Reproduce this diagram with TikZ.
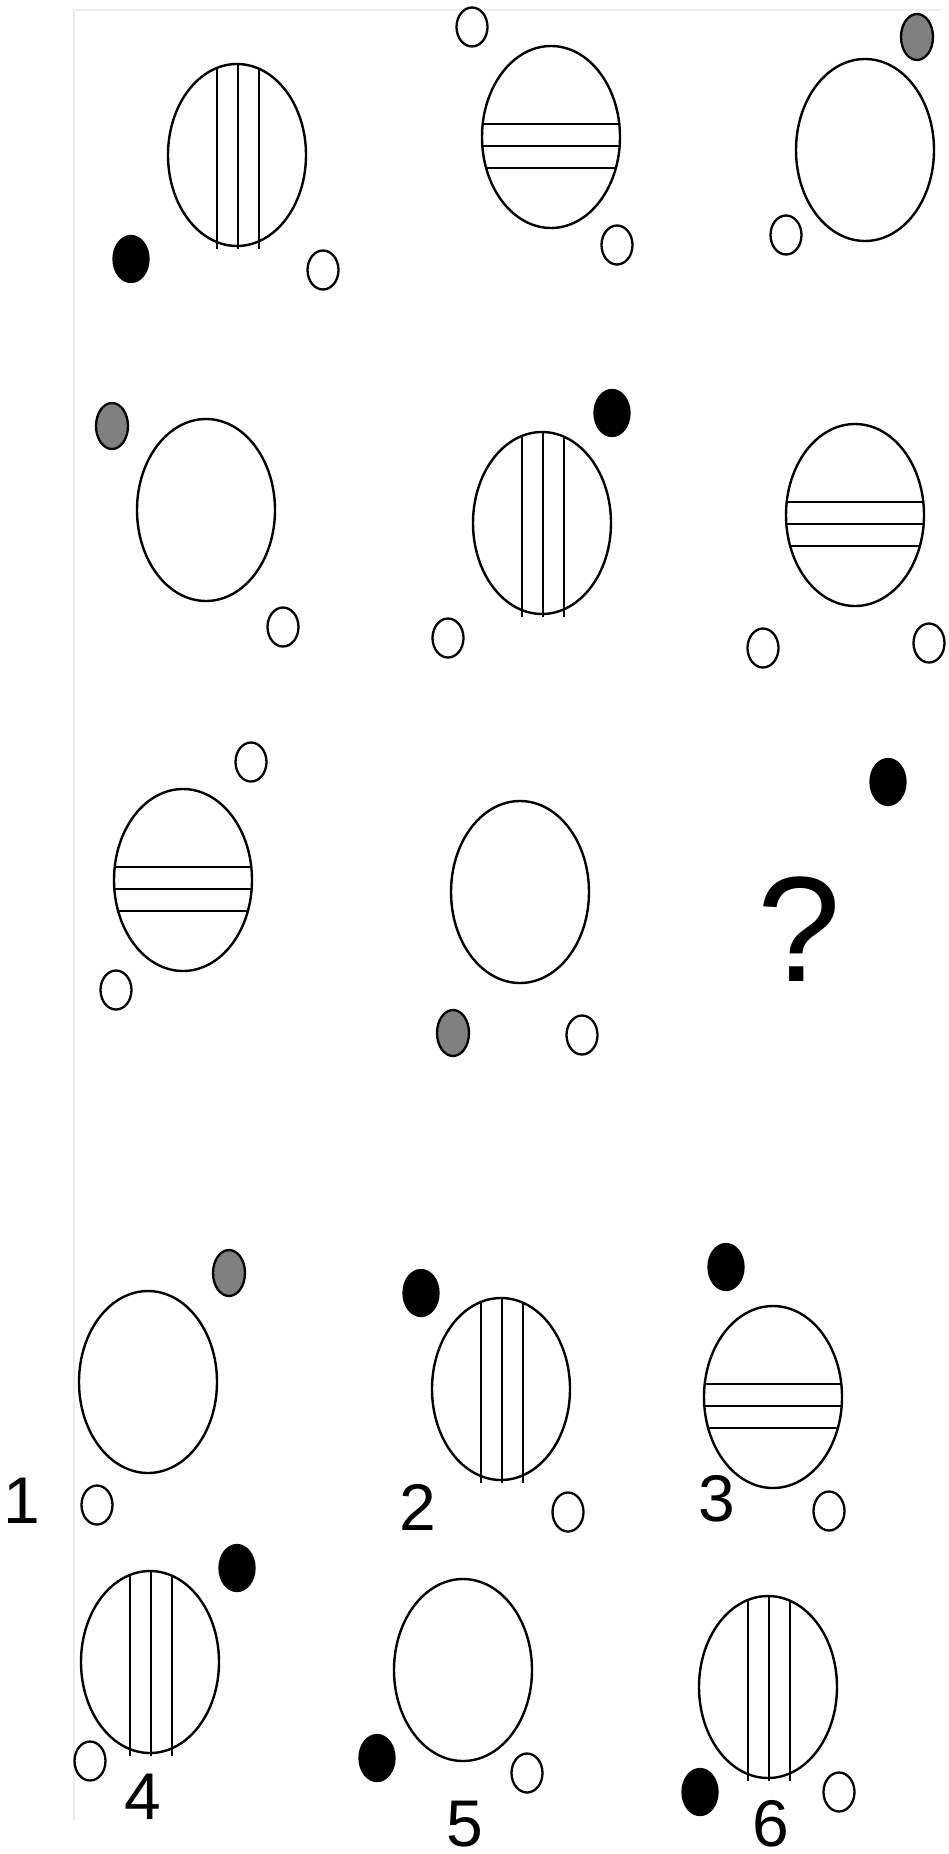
\documentclass[tikz,border=0pt]{standalone}
\usepackage{fontspec}
\setmainfont{Liberation Sans}
\usetikzlibrary{shapes.geometric}

\begin{document}
\begin{tikzpicture}[
    x=1pt, y=-1pt,
    big/.style={ellipse, draw, line width=2.4pt, minimum width=138pt, minimum height=182pt, inner sep=0pt},
    whitedot/.style={ellipse, draw, line width=2.3pt, fill=white, minimum width=31pt, minimum height=39pt, inner sep=0pt},
    blackdot/.style={ellipse, draw, line width=2.3pt, fill=black, minimum width=35pt, minimum height=46pt, inner sep=0pt},
    graydot/.style={ellipse, draw, line width=2.3pt, fill=gray, minimum width=32pt, minimum height=46pt, inner sep=0pt},
    vline/.style={line width=2.1pt},
    hline/.style={line width=2.7pt},
    number/.style={inner sep=0pt, font=\fontsize{66}{66}\selectfont}
]
    \path[fill=white] (0,0) rectangle (948,1854);
    \draw[black!8, line width=2pt] (74,1820) -- (74,10) -- (940,10);

    % Row 1
    \node[big] (e11) at (237,155) {};
    \foreach \dx/\dy in {-20/87, 1/91, 22/86}
        \draw[vline] ([shift={(\dx,-\dy)}]e11.center) -- ++(0,\dy+94);
    \node[blackdot] (d11a) at (131,259) {};
    \node[whitedot] (d11b) at (323,270) {};

    \node[big] (e12) at (551,137) {};
    \foreach \dy/\w in {-13/68, 9/68.5, 31/65}
        \draw[hline] ([shift={(-\w,\dy)}]e12.center) -- ++(2*\w,0);
    \node[whitedot] (d12a) at (472,27) {};
    \node[whitedot] (d12b) at (617,245) {};

    \node[big] (e13) at (865,150) {};
    \node[graydot] (d13a) at (917,37) {};
    \node[whitedot] (d13b) at (786,235) {};

    % Row 2
    \node[big] (e21) at (206,510) {};
    \node[graydot] (d21a) at (112,426) {};
    \node[whitedot] (d21b) at (283,627) {};

    \node[big] (e22) at (542,523) {};
    \foreach \dx/\dy in {-20/87, 1/91, 22/86}
        \draw[vline] ([shift={(\dx,-\dy)}]e22.center) -- ++(0,\dy+94);
    \node[blackdot] (d22a) at (612,413) {};
    \node[whitedot] (d22b) at (448,638) {};

    \node[big] (e23) at (855,515) {};
    \foreach \dy/\w in {-13/68, 9/68.5, 31/65}
        \draw[hline] ([shift={(-\w,\dy)}]e23.center) -- ++(2*\w,0);
    \node[whitedot] (d23a) at (763,648) {};
    \node[whitedot] (d23b) at (929,643) {};

    % Row 3
    \node[big] (e31) at (183,880) {};
    \foreach \dy/\w in {-13/68, 9/68.5, 31/65}
        \draw[hline] ([shift={(-\w,\dy)}]e31.center) -- ++(2*\w,0);
    \node[whitedot] (d31a) at (251,762) {};
    \node[whitedot] (d31b) at (116,990) {};

    \node[big] (e32) at (520,892) {};
    \node[graydot] (d32a) at (453,1033) {};
    \node[whitedot] (d32b) at (582,1035) {};

    \node[blackdot] (d33a) at (888,782) {};
    \node[inner sep=0pt, font=\fontsize{150}{150}\selectfont] (q) at (799,929) {?};

    % Answers
    \node[big] (a1) at (148,1382) {};
    \node[graydot] (a1a) at (229,1273) {};
    \node[whitedot] (a1b) at (97,1505) {};
    \node[number] (n1) at (22,1501) {1};

    \node[big] (a2) at (501,1389) {};
    \foreach \dx/\dy in {-20/87, 1/91, 22/86}
        \draw[vline] ([shift={(\dx,-\dy)}]a2.center) -- ++(0,\dy+94);
    \node[blackdot] (a2a) at (421,1293) {};
    \node[whitedot] (a2b) at (568,1512) {};
    \node[number] (n2) at (418,1507) {2};

    \node[big] (a3) at (773,1397) {};
    \foreach \dy/\w in {-13/68, 9/68.5, 31/65}
        \draw[hline] ([shift={(-\w,\dy)}]a3.center) -- ++(2*\w,0);
    \node[blackdot] (a3a) at (726,1267) {};
    \node[whitedot] (a3b) at (829,1511) {};
    \node[number] (n3) at (717,1499) {3};

    \node[big] (a4) at (150,1662) {};
    \foreach \dx/\dy in {-20/87, 1/91, 22/86}
        \draw[vline] ([shift={(\dx,-\dy)}]a4.center) -- ++(0,\dy+94);
    \node[blackdot] (a4a) at (237,1568) {};
    \node[whitedot] (a4b) at (90,1761) {};
    \node[number] (n4) at (143,1797) {4};

    \node[big] (a5) at (463,1670) {};
    \node[blackdot] (a5a) at (377,1758) {};
    \node[whitedot] (a5b) at (527,1773) {};
    \node[number] (n5) at (465,1824) {5};

    \node[big] (a6) at (768,1687) {};
    \foreach \dx/\dy in {-20/87, 1/91, 22/86}
        \draw[vline] ([shift={(\dx,-\dy)}]a6.center) -- ++(0,\dy+94);
    \node[blackdot] (a6a) at (700,1792) {};
    \node[whitedot] (a6b) at (839,1792) {};
    \node[number] (n6) at (771,1824) {6};
\end{tikzpicture}
\end{document}
